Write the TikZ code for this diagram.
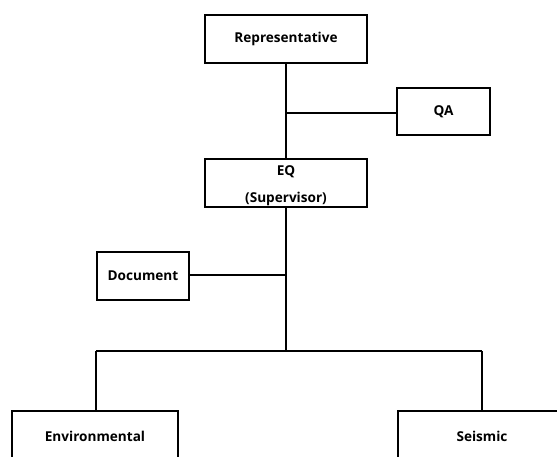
\documentclass[tikz,border=0pt]{standalone}
\usepackage{fontspec}
\setmainfont{Open Sans}
\begin{document}
\begin{tikzpicture}[x=1pt,y=-1pt,
  lbl/.style={font=\fontsize{13.6}{15}\selectfont\bfseries},
  box/.style={draw, line width=1.6pt, rectangle, inner sep=0pt, lbl},
  conn/.style={line width=1.6pt}]
\clip (0,0) rectangle (557,457);
\useasboundingbox (0,0) rectangle (557,457);
\node[box, minimum width=162pt, minimum height=48pt] (rep) at (286,39) {Representative};
\node[box, minimum width=93pt, minimum height=47pt] (qa) at (443.5,111.5) {QA};
\node[box, minimum width=162pt, minimum height=48pt] (eq) at (286,183) {};
\node[lbl] (eqt) at (286,172) {EQ};
\node[lbl] (eqs) at (286,199) {(Supervisor)};
\node[box, minimum width=92pt, minimum height=48pt] (doc) at (143,276) {Document};
\node[box, minimum width=166pt, minimum height=70pt] (env) at (95,446) {};
\node[lbl] (envt) at (95,436) {Environmental};
\node[box, minimum width=168pt, minimum height=70pt] (seis) at (482,446) {};
\node[lbl] (seist) at (482,436) {Seismic};
\coordinate (qj) at (286,113);
\coordinate (dj) at (286,275);
\coordinate (bj) at (286,351);
\coordinate (bl) at (96,351);
\coordinate (br) at (482,351);
\draw[conn] (rep.south) -- (eq.north);
\draw[conn] (qj) -- (qj -| qa.west);
\draw[conn] (eq.south) -- (bj);
\draw[conn] (doc.east |- dj) -- (dj);
\draw[conn] (bl) -- (br);
\draw[conn] (bl) -- (bl |- env.north);
\draw[conn] (br) -- (br |- seis.north);
\end{tikzpicture}
\end{document}
